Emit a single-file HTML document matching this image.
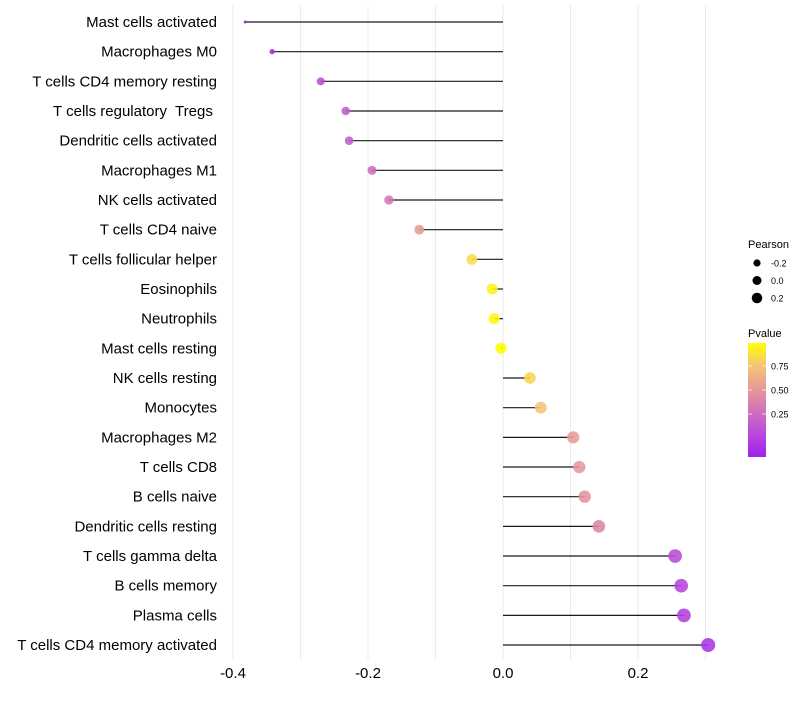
<!DOCTYPE html>
<html><head><meta charset="utf-8"><style>
body{margin:0;background:#fff;}
svg text{font-family:"Liberation Sans",sans-serif;white-space:pre;}
</style></head><body>
<svg id="chart" width="800" height="700"></svg>
<script>
const categories=["Mast cells activated","Macrophages M0","T cells CD4 memory resting","T cells regulatory  Tregs ","Dendritic cells activated","Macrophages M1","NK cells activated","T cells CD4 naive","T cells follicular helper","Eosinophils","Neutrophils","Mast cells resting","NK cells resting","Monocytes","Macrophages M2","T cells CD8","B cells naive","Dendritic cells resting","T cells gamma delta","B cells memory","Plasma cells","T cells CD4 memory activated"];
const pearson=[-0.382,-0.342,-0.27,-0.233,-0.228,-0.194,-0.169,-0.124,-0.046,-0.016,-0.013,-0.003,0.040,0.056,0.104,0.113,0.121,0.142,0.255,0.264,0.268,0.304];
const pvalue=[0.05,0.1,0.27,0.32,0.32,0.4,0.45,0.62,0.88,0.95,0.96,0.99,0.86,0.8,0.62,0.6,0.58,0.52,0.25,0.22,0.2,0.15];
const xTicks=[-0.4,-0.2,0.0,0.2];
const xMinor=[-0.3,-0.1,0.1,0.3];
const legendSizes=[-0.2,0.0,0.2];
const legendP=[0.75,0.50,0.25];

const NS="http://www.w3.org/2000/svg";
const svg=document.getElementById('chart');
function mk(t,a,p){const e=document.createElementNS(NS,t);for(const k in a)e.setAttribute(k,a[k]);(p||svg).appendChild(e);return e;}
const x=v=>503+v*675;
const y=i=>22+i*29.667;
const r=v=>{const a=v>-0.27?16+58*(v+0.27):2.25+122*(v+0.382);return Math.sqrt(Math.max(2,a));};
const stops=[[0,[160,32,240]],[0.3,[196,92,208]],[0.55,[226,144,160]],[0.8,[244,196,120]],[1,[255,255,0]]];
function col(p){const t=Math.min(1,Math.max(0,(p-0.05)/0.94));for(let k=1;k<stops.length;k++){if(t<=stops[k][0]){const a=stops[k-1],b=stops[k];const f=(t-a[0])/(b[0]-a[0]);const c=a[1].map((v,j)=>Math.round(v+(b[1][j]-v)*f));return `rgb(${c})`;}}return 'rgb(255,255,0)';}

xMinor.concat(xTicks).forEach(v=>{const l=mk('line',{x1:x(v),x2:x(v),y1:5,y2:660,stroke:'#ebebeb','stroke-width':1});

});
xTicks.forEach(v=>{const t=mk('text',{x:x(v),y:678,'text-anchor':'middle','font-size':15,fill:'#000'});t.textContent=v.toFixed(1);

});
categories.forEach((c,i)=>{
const t=mk('text',{x:217,y:y(i)+5,'text-anchor':'end','font-size':15,fill:'#000'});t.textContent=c;


const s=mk('line',{x1:x(0),x2:x(pearson[i]),y1:y(i),y2:y(i),stroke:'#000','stroke-width':1.2,'stroke-opacity':0.9});


const d=mk('circle',{cx:x(pearson[i]),cy:y(i),r:r(pearson[i]),fill:col(pvalue[i]),'fill-opacity':0.88});


});
const lt=mk('text',{x:748,y:248,'font-size':11});lt.textContent='Pearson';


legendSizes.forEach((v,k)=>{const cy=263+k*17.5;
const c=mk('circle',{cx:757,cy:cy,r:r(v)*0.8,fill:'#000'});


const t=mk('text',{x:771,y:cy+3.5,'font-size':9});t.textContent=v.toFixed(1);

});
const pt=mk('text',{x:748,y:337,'font-size':11});pt.textContent='Pvalue';


const defs=mk('defs',{});const g=mk('linearGradient',{id:'pg',x1:0,y1:1,x2:0,y2:0},defs);
stops.forEach(s=>mk('stop',{offset:s[0],'stop-color':`rgb(${s[1]})`},g));
const bar=mk('rect',{x:748,y:343,width:18,height:114,fill:'url(#pg)'});


legendP.forEach(p=>{const yy=438-p*96;
mk('line',{x1:748,x2:752,y1:yy,y2:yy,stroke:'#fff','stroke-opacity':0.7});
mk('line',{x1:762,x2:766,y1:yy,y2:yy,stroke:'#fff','stroke-opacity':0.7});
const t=mk('text',{x:771,y:yy+3.5,'font-size':9});t.textContent=p.toFixed(2);

});
</script>
</body></html>
